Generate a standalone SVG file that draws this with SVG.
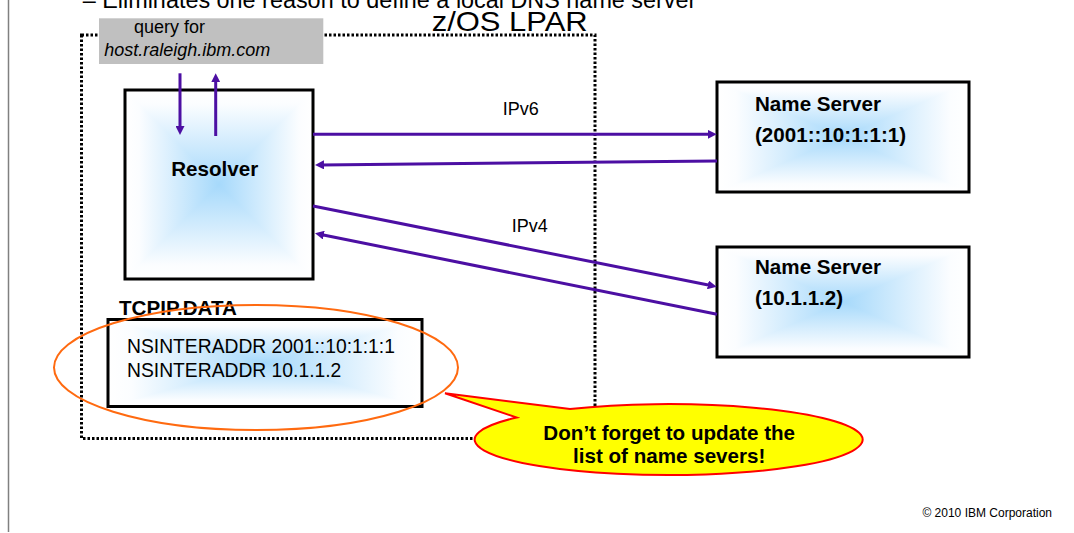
<svg xmlns="http://www.w3.org/2000/svg" width="1074" height="533" viewBox="0 0 1074 533">
<style>
text{font-family:"Liberation Sans",Arial,sans-serif;fill:#000}
.b{font-weight:bold;font-size:20.6px}
.box{fill:none;stroke:#000;stroke-width:3}
.tri{shape-rendering:crispEdges}
.con{stroke:#4c0fa3;stroke-width:3;fill:none;marker-end:url(#ah)}
</style>
<defs>
<linearGradient id="gT" x1="0" y1="0" x2="0" y2="1"><stop offset="0" stop-color="#fff"/><stop offset="0.15" stop-color="#fbfdff"/><stop offset="1" stop-color="#a6d9fb"/></linearGradient>
<linearGradient id="gB" x1="0" y1="1" x2="0" y2="0"><stop offset="0" stop-color="#fff"/><stop offset="0.15" stop-color="#fbfdff"/><stop offset="1" stop-color="#a6d9fb"/></linearGradient>
<linearGradient id="gL" x1="0" y1="0" x2="1" y2="0"><stop offset="0" stop-color="#fff"/><stop offset="0.15" stop-color="#fbfdff"/><stop offset="1" stop-color="#a6d9fb"/></linearGradient>
<linearGradient id="gR" x1="1" y1="0" x2="0" y2="0"><stop offset="0" stop-color="#fff"/><stop offset="0.15" stop-color="#fbfdff"/><stop offset="1" stop-color="#a6d9fb"/></linearGradient>
<marker id="ah" viewBox="0 0 10 10" refX="3.3" refY="5" markerWidth="9" markerHeight="9" markerUnits="userSpaceOnUse" orient="auto"><path d="M0,0 L10,5 L0,10 z" fill="#4c0fa3"/></marker>
</defs>
<rect width="1074" height="533" fill="#fff"/>
<line x1="8.5" y1="0" x2="8.5" y2="532" stroke="#808080" stroke-width="1.5"/>
<text x="82.7" y="7.5" style="font-size:23.4px">– Eliminates one reason to define a local DNS name server</text>
<g id="lpar">
<rect x="81.5" y="35" width="513.5" height="403.5" fill="none" stroke="#000" stroke-width="3" stroke-dasharray="2.5 2"/>
<text x="431.7" y="30.7" style="font-size:28px" textLength="156" lengthAdjust="spacingAndGlyphs">z/OS LPAR</text>
</g>
<g id="query">
<rect x="99" y="18.3" width="224.3" height="45.7" fill="#c0c0c0"/>
<text x="134" y="33.3" style="font-size:18px">query for</text>
<text x="104.3" y="56" style="font-size:18px;font-style:italic">host.raleigh.ibm.com</text>
</g>
<g id="resolver">
<polygon class="tri" points="125,90 313,90 219,184.5" fill="url(#gT)"/>
<polygon class="tri" points="125,279 313,279 219,184.5" fill="url(#gB)"/>
<polygon class="tri" points="125,90 125,279 219,184.5" fill="url(#gL)"/>
<polygon class="tri" points="313,90 313,279 219,184.5" fill="url(#gR)"/>
<rect class="box" x="125" y="90" width="188" height="189"/>
<text class="b" x="214.7" y="175.7" text-anchor="middle">Resolver</text>
</g>
<g id="ns1">
<polygon class="tri" points="717,82 969,82 843,137" fill="url(#gT)"/>
<polygon class="tri" points="717,192 969,192 843,137" fill="url(#gB)"/>
<polygon class="tri" points="717,82 717,192 843,137" fill="url(#gL)"/>
<polygon class="tri" points="969,82 969,192 843,137" fill="url(#gR)"/>
<rect class="box" x="717" y="82" width="252" height="110"/>
<text class="b" x="755" y="110.7">Name Server</text>
<text class="b" x="755" y="141.7">(2001::10:1:1:1)</text>
</g>
<g id="ns2">
<polygon class="tri" points="717,247 969,247 843,302" fill="url(#gT)"/>
<polygon class="tri" points="717,357 969,357 843,302" fill="url(#gB)"/>
<polygon class="tri" points="717,247 717,357 843,302" fill="url(#gL)"/>
<polygon class="tri" points="969,247 969,357 843,302" fill="url(#gR)"/>
<rect class="box" x="717" y="247" width="252" height="110"/>
<text class="b" x="755" y="274">Name Server</text>
<text class="b" x="755" y="305">(10.1.1.2)</text>
</g>
<g id="tcpip">
<polygon class="tri" points="108,319.5 422,319.5 265,363" fill="url(#gT)"/>
<polygon class="tri" points="108,406.5 422,406.5 265,363" fill="url(#gB)"/>
<polygon class="tri" points="108,319.5 108,406.5 265,363" fill="url(#gL)"/>
<polygon class="tri" points="422,319.5 422,406.5 265,363" fill="url(#gR)"/>
<rect class="box" x="108" y="319.5" width="314" height="87"/>
<text class="b" x="119" y="315">TCPIP.DATA</text>
<text x="127" y="352.7" style="font-size:19.3px">NSINTERADDR 2001::10:1:1:1</text>
<text x="127" y="377.3" style="font-size:19.3px">NSINTERADDR 10.1.1.2</text>
</g>
<g id="connectors">
<line class="con" x1="180" y1="73.3" x2="180" y2="129"/>
<line class="con" x1="215.7" y1="136" x2="215.7" y2="79.3"/>
<line class="con" x1="313" y1="134.3" x2="710.7" y2="134.3"/>
<line class="con" x1="717" y1="161" x2="321" y2="164.9"/>
<line class="con" x1="313" y1="206" x2="710.8" y2="285.5"/>
<line class="con" x1="717" y1="314.3" x2="320.9" y2="234.5"/>
<text x="502.7" y="115" style="font-size:18px">IPv6</text>
<text x="511.7" y="232" style="font-size:18px">IPv4</text>
</g>
<g id="highlight">
<ellipse cx="256" cy="367.5" rx="202" ry="62.5" fill="none" stroke="#ff6a10" stroke-width="2"/>
</g>
<g id="callout">
<path d="M445,393.3 L570,409 A194 35.5 0 1 1 516.7,417.5 Z" fill="#ffff00" stroke="#ff0000" stroke-width="2"/>
<text class="b" x="669.2" y="440" text-anchor="middle">Don’t forget to update the</text>
<text class="b" x="669.2" y="463.3" text-anchor="middle">list of name severs!</text>
</g>
<text x="1052" y="516.7" text-anchor="end" style="font-size:12px">© 2010 IBM Corporation</text>
</svg>
